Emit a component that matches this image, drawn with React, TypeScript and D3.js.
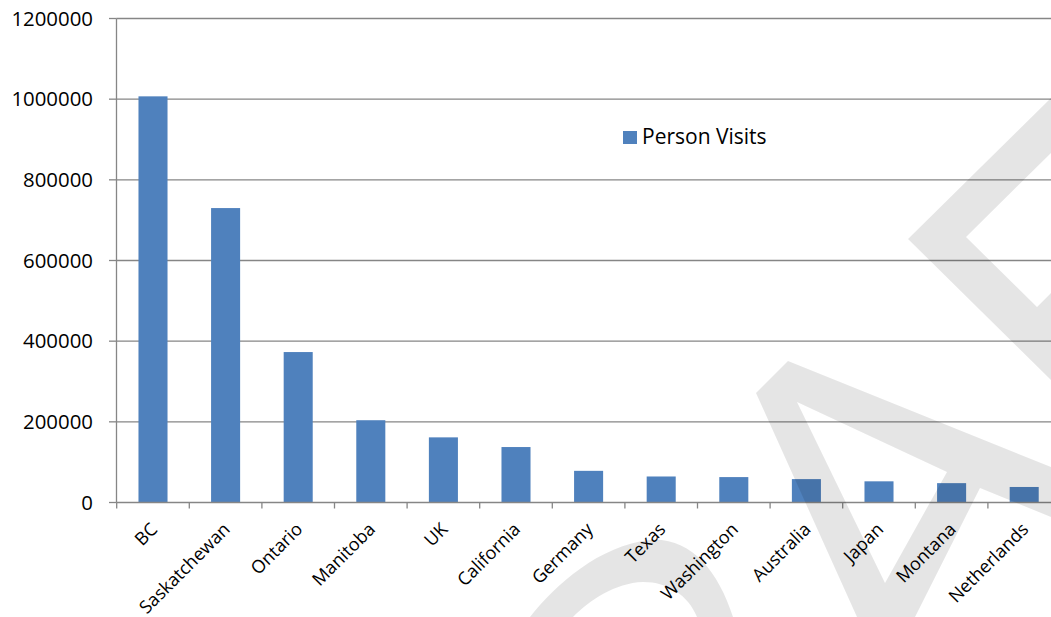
import React from "react";
import * as d3 from "d3";

const categories = ["BC", "Saskatchewan", "Ontario", "Manitoba", "UK", "California", "Germany", "Texas", "Washington", "Australia", "Japan", "Montana", "Netherlands"];
const personVisits = [1007000, 730000, 373000, 204000, 161500, 137500, 78500, 64500, 63000, 58000, 52500, 48000, 38500];
const yTicks = [0, 200000, 400000, 600000, 800000, 1000000, 1200000];
const seriesName = "Person Visits";

const W = 1051;
const H = 617;
const FONT = "'Open Sans', sans-serif";
const AXIS = "#868686";
const BAR = "#4f81bd";

export default function App() {
  const x = d3.scaleBand<string>().domain(categories).range([116.7, 1060.5]).paddingInner(0.6).paddingOuter(0.3);
  const y = d3.scaleLinear().domain([0, 1200000]).range([502.5, 18.5]);
  const step = x.step();
  const left = 116.5;

  // watermark shapes
  const arc = "M530,617 C555,585 600,545 650,540 C690,537 718,570 733,617 L697,617 C688,595 668,582 643,582 C615,583 590,600 573,617 Z";
  const aShape = "M756,393 L788,361 L1051,467 L1051,517 L980,488 L915,617 L857,617 Z M797,402 L947,472 L885,583 Z";
  const chevron = "M1051,98 L908,239 L1051,380 L1051,293 L1037,307 L966,237 L1051,153 Z";

  return (
    <div style={{ position: "absolute", left: 0, top: 0 }}>
      <svg width={W} height={H} style={{ display: "block", background: "#fff" }} fontFamily={FONT}>
        {yTicks.map((t) => (
          <g key={t}>
            {t > 0 && <line x1={left} x2={1060} y1={y(t)} y2={y(t)} stroke={AXIS} strokeWidth={1.3} />}
            <line x1={109} x2={left} y1={y(t)} y2={y(t)} stroke={AXIS} strokeWidth={1.3} />
            <text x={93} y={y(t)} dy="0.35em" textAnchor="end" fontSize={20.4} fill="#000">{t}</text>
          </g>
        ))}
        {categories.map((c, i) => (
          <rect key={c} x={x(c)} y={y(personVisits[i])} width={x.bandwidth()} height={y(0) - y(personVisits[i])} fill={BAR} />
        ))}
        <line x1={left} x2={left} y1={y(1200000)} y2={y(0)} stroke={AXIS} strokeWidth={1.3} />
        <line x1={left} x2={1060} y1={y(0)} y2={y(0)} stroke={AXIS} strokeWidth={1.3} />
        {d3.range(categories.length + 1).map((i) => (
          <line key={i} x1={116.7 + i * step} x2={116.7 + i * step} y1={y(0)} y2={y(0) + 6} stroke={AXIS} strokeWidth={1.3} />
        ))}
        {categories.map((c) => {
          const cx = (x(c) as number) + x.bandwidth() / 2 + 1;
          const cy = 526;
          return (
            <text key={c} x={cx} y={cy} dy="0.35em" textAnchor="end" fontSize={18} fill="#000" transform={`rotate(-45 ${cx} ${cy})`}>{c}</text>
          );
        })}
        <rect x={623} y={131} width={14} height={13} fill={BAR} />
        <text x={642} y={144} fontSize={21} fill="#000">{seriesName}</text>
        <g fill="#000" fillOpacity={0.1} fillRule="evenodd">
          <path d={arc} />
          <path d={aShape} />
          <path d={chevron} />
        </g>
      </svg>
    </div>
  );
}
